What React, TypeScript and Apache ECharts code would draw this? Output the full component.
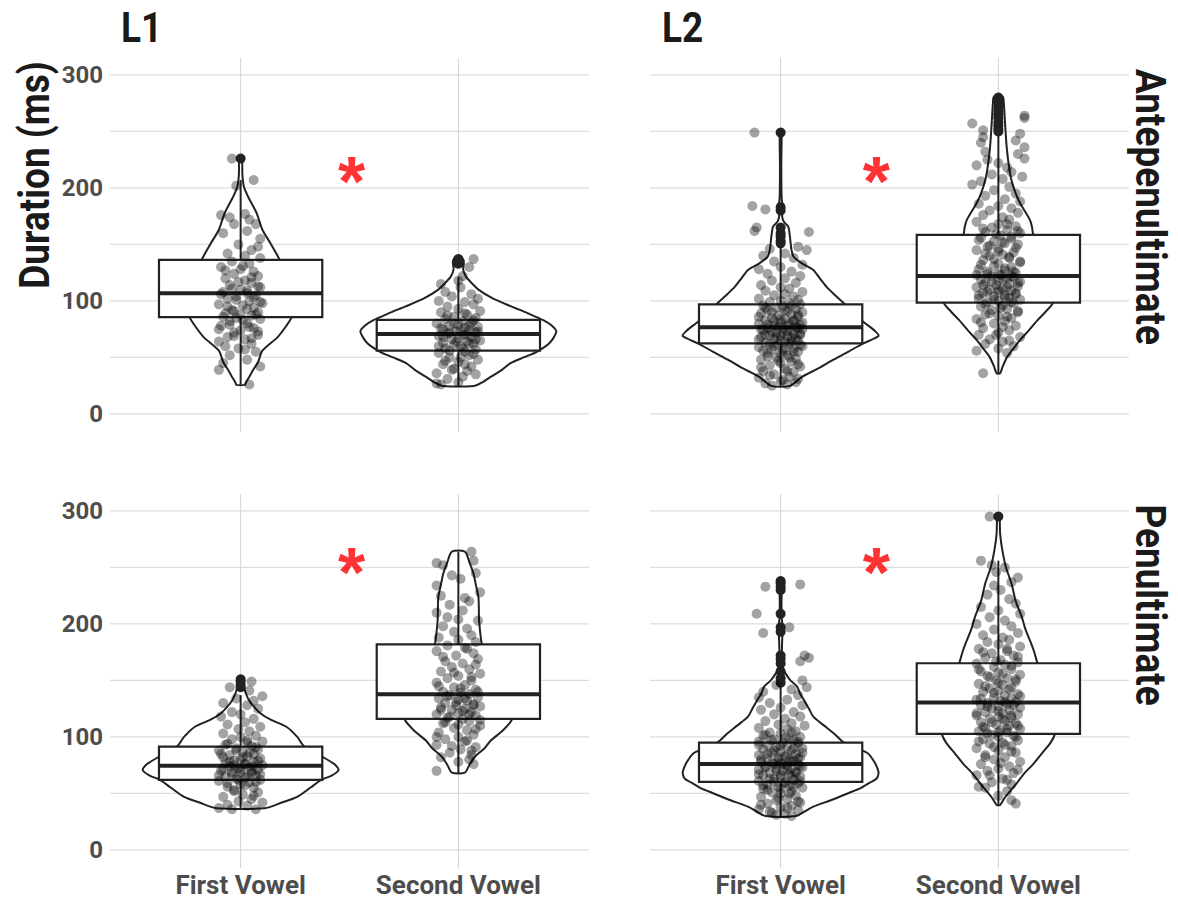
import React, { useEffect, useRef } from "react";
import * as echarts from "echarts";

// ---------- DATA ----------
const categories = ["First Vowel", "Second Vowel"];
const languages = ["L1", "L2"];
const positions = ["Antepenultimate", "Penultimate"];
const yTickLabels = [0, 100, 200, 300];
const yGridValues = [0, 50, 100, 150, 200, 250, 300];
const yAxisTitle = "Duration (ms)";

// box stats: [lower whisker, Q1, median, Q3, upper whisker]
const boxL1AnteFirst = [26, 85.6, 106.8, 136.3, 207];
const boxL1AnteSecond = [25, 56, 70.8, 83.2, 121];
const boxL2AnteFirst = [25, 62.5, 76.7, 97, 148];
const boxL2AnteSecond = [36, 98.5, 122, 158.4, 248];
const boxL1PenFirst = [37, 62, 74.6, 91.4, 137];
const boxL1PenSecond = [68, 116, 137.8, 182, 264];
const boxL2PenFirst = [30, 60.2, 76.1, 95, 146];
const boxL2PenSecond = [40, 102.7, 130.4, 165.2, 256];

// outliers
const outL1AnteFirst = [226];
const outL1AnteSecond = [133, 135, 137];
const outL2AnteFirst = [151, 153, 157, 160, 165, 180, 183, 249];
const outL2AnteSecond = [250, 252, 255, 258, 262, 265, 268, 272, 276, 278, 280];
const outL1PenFirst = [144, 146, 149, 151];
const outL1PenSecond: number[] = [];
const outL2PenFirst = [148, 152, 158, 165, 169, 172, 193, 197, 209, 230, 233, 236, 238];
const outL2PenSecond = [295];

// violin profiles: [duration, half width (category units)]
const vioL1AnteFirst = [[25.7,0.02],[27,0.022],[33,0.04],[39,0.058],[46,0.08],[56,0.1],[68,0.17],[78,0.21],[86,0.235],[95,0.24],[105,0.235],[120,0.21],[136,0.18],[150,0.14],[163,0.1],[178,0.073],[192,0.035],[201,0.015],[212,0.008],[226.5,0.006]];
const vioL1AnteSecond = [[24.8,0.073],[28,0.11],[33,0.15],[39,0.2],[45,0.24],[50,0.3],[55,0.36],[63,0.42],[72.8,0.45],[78,0.43],[83,0.39],[89,0.32],[95,0.245],[102,0.16],[110,0.092],[116,0.06],[121.5,0.035],[128,0.022],[133,0.025],[136,0.024],[139,0.012]];
const vioL2AnteFirst = [[24.8,0.043],[33,0.1],[40,0.17],[47.8,0.24],[55,0.31],[62.5,0.38],[69,0.45],[74,0.43],[80,0.39],[88,0.34],[98,0.29],[105,0.25],[112.6,0.21],[120,0.18],[127.4,0.15],[133,0.1],[139,0.06],[145,0.05],[151,0.046],[158,0.042],[165.8,0.035],[170,0.015],[174.6,0.007],[180,0.01],[184,0.012],[188,0.006],[195,0.004],[220,0.003],[249.8,0.004]];
const vioL2AnteSecond = [[36,0.008],[42,0.02],[50.7,0.041],[58,0.07],[65.5,0.1],[74,0.14],[83,0.18],[90,0.215],[98,0.25],[110,0.27],[125,0.26],[140,0.22],[150,0.19],[159,0.16],[165,0.155],[171.7,0.145],[180,0.12],[186.5,0.1],[195,0.08],[207,0.06],[220,0.048],[236.6,0.038],[250,0.033],[266,0.028],[275,0.025],[280.8,0.02]];
const vioL1PenFirst = [[36.9,0.11],[42,0.19],[47,0.26],[55,0.32],[62,0.37],[66,0.42],[70.8,0.45],[76,0.43],[83,0.37],[92,0.29],[100,0.26],[109,0.21],[115,0.14],[121,0.09],[127,0.06],[132.7,0.038],[138,0.025],[144.5,0.015],[148,0.015],[152,0.012]];
const vioL1PenSecond = [[68.4,0.03],[75,0.05],[82.6,0.076],[90,0.12],[97,0.15],[105,0.2],[115,0.245],[125,0.25],[135,0.23],[150,0.19],[165,0.15],[175,0.12],[183,0.107],[193,0.1],[203.5,0.095],[214,0.094],[224,0.092],[235,0.08],[244.8,0.069],[255,0.05],[264,0.03]];
const vioL2PenFirst = [[30,0.07],[34,0.11],[38.3,0.15],[44,0.23],[50.2,0.31],[55,0.37],[59.6,0.41],[63,0.44],[67.9,0.45],[72,0.445],[78,0.43],[85.5,0.4],[90,0.35],[95,0.29],[103,0.245],[110,0.2],[118,0.15],[125,0.13],[132.7,0.107],[138,0.09],[144.5,0.076],[150,0.045],[156,0.023],[160,0.012],[165,0.008],[170,0.012],[175,0.006],[190,0.008],[197,0.01],[205,0.005],[220,0.004],[238,0.005]];
const vioL2PenSecond = [[39.8,0.008],[45,0.025],[50.2,0.046],[58,0.08],[67.9,0.12],[76,0.16],[85.5,0.2],[95,0.24],[102.7,0.26],[115,0.27],[130,0.26],[145,0.23],[155,0.2],[165,0.18],[175,0.165],[183,0.15],[195,0.125],[206.5,0.107],[220,0.08],[236,0.06],[250,0.035],[265.5,0.018],[280,0.008],[295,0.005]];

// jittered observations: [horizontal jitter, duration]
const ptsL1AnteFirst = [[-0.04,226],[0.06,207],[-0.02,202],[-0.09,176],[-0.05,174],[0.02,177],[0.04,172],[-0.03,168],[0.07,168],[-0.08,160],[0.03,162],[0.09,155],[-0.01,150],[0.08,148],[0.05,145],[-0.06,142],[0.02,140],[0.09,138],[-0.04,135],[0.04,133],[-0.09,130],[0,128],[0.06,126],[-0.03,124],[0.08,122],[-0.07,120],[0.02,118],[0.05,116],[-0.05,114],[0.09,112],[0,110],[-0.08,108],[0.03,107],[0.07,105],[-0.02,104],[-0.06,102],[0.04,100],[0.1,98],[-0.1,97],[0.01,96],[0.06,94],[-0.04,92],[0.08,90],[-0.07,89],[0,88],[0.05,87],[-0.02,85],[0.09,84],[-0.05,82],[0.03,80],[-0.09,78],[0.06,76],[0,74],[-0.03,72],[0.08,70],[-0.06,68],[0.02,66],[-0.1,64],[0.05,62],[-0.01,58],[0.07,55],[-0.05,52],[0.03,48],[-0.08,45],[0.09,42],[-0.1,39],[0.04,26],
  [0.01,131],[-0.07,127],[0.05,121],[-0.01,117],[0.08,113],[-0.04,111],[0.03,109],[-0.09,106],[0.06,103],[-0.02,101],[0.09,99],[-0.06,95],[0.03,93],[-0.03,91],[0.07,88],[-0.08,86],[0.01,83],[-0.05,79],[0.04,77],[-0.1,75],[0.08,73],[-0.03,69],[0.05,67],[-0.07,60],[0.02,57]];
const ptsL1AnteSecond = [[0.07,137],[0.05,130],[0.02,122],[0,118],[-0.08,115],[0.01,112],[-0.06,108],[0.06,106],[-0.03,104],[0.09,102],[-0.09,100],[0.03,99],[0.07,97],[-0.05,95],[0,93],[0.1,91],[-0.08,90],[0.04,88],[-0.02,86],[0.08,85],[-0.06,84],[0.02,82],[0.06,81],[-0.1,80],[0,79],[-0.04,78],[0.09,77],[0.03,76],[-0.07,75],[0.05,74],[-0.01,73],[0.08,72],[-0.05,71],[0.02,70],[-0.09,69],[0.06,68],[0,67],[-0.03,66],[0.1,65],[0.04,64],[-0.07,63],[0.07,62],[-0.02,61],[0.01,60],[-0.06,58],[0.08,57],[0.03,55],[-0.09,54],[0.05,52],[-0.04,50],[0.09,48],[0,46],[-0.07,44],[0.06,42],[-0.02,40],[0.04,38],[-0.1,36],[0.08,35],[0.02,33],[-0.05,31],[-0.1,27],[-0.08,26],[0,28],
  [0.03,89],[-0.05,87],[0.07,83],[-0.02,80],[0.05,78],[-0.08,76],[0.01,74],[0.09,73],[-0.04,72],[0.04,70],[-0.07,68],[0.08,66],[-0.01,64],[0.05,62],[-0.09,60],[0.02,58],[-0.04,56],[0.07,53],[0.01,50],[-0.06,47],[0.03,44],[-0.03,39]];
const ptsL2AnteFirst = [[-0.12,249],[-0.13,184],[-0.07,181],[-0.11,165],[-0.12,162],[0.13,161],[0.08,148],[-0.05,146],[0.12,145],[0.02,142],[-0.08,140],[0.06,138],[-0.03,135],[0.1,132],[0,130],[-0.1,128],[0.05,126],[-0.06,124],[0.09,122],[0.02,120],[-0.04,118],[0.07,116],[-0.09,114],[0,112],[0.04,111],[-0.07,109],[0.1,108],[0.02,106],[-0.03,105],[0.06,104],[-0.1,102],[0.08,101],[0,100],[-0.05,99],[0.04,98],[0.09,97],[-0.08,96],[0.01,95],[-0.02,94],[0.07,93],[-0.06,92],[0.03,91],[0.1,90],[-0.09,89],[0.05,88],[-0.01,87],[0.08,86],[-0.04,85],[0.02,84],[-0.07,83],[0.06,82],[0,81],[-0.1,80],[0.04,80],[0.09,79],[-0.03,78],[0.07,77],[-0.06,76],[0.01,76],[0.1,75],[-0.08,74],[0.03,73],[-0.02,72],[0.06,71],[-0.05,70],[0.09,70],[0,69],[-0.09,68],[0.05,67],[-0.03,66],[0.08,65],[0.02,64],[-0.07,63],[0.04,62],[-0.01,61],[0.1,60],[-0.1,59],[0.06,58],[-0.04,57],[0.01,56],[0.08,55],[-0.06,54],[0.03,52],[-0.02,50],[0.07,49],[-0.09,48],[0.05,46],[0,45],[-0.05,43],[0.09,42],[0.02,40],[-0.08,38],[0.06,37],[-0.03,35],[0.04,33],[-0.1,32],[0.08,31],[0,29],[-0.07,27],[0.03,26],[-0.04,25],
  [0.05,96],[-0.07,94],[0.02,92],[-0.04,90],[0.08,88],[-0.1,86],[0,84],[0.06,83],[-0.03,82],[0.1,81],[-0.06,79],[0.03,78],[-0.01,77],[0.08,76],[-0.09,75],[0.05,74],[-0.04,73],[0.01,72],[0.09,71],[-0.07,70],[0.03,69],[-0.02,68],[0.07,67],[-0.1,66],[0,65],[0.05,64],[-0.05,62],[0.09,61],[-0.03,60],[0.02,58],[-0.08,56],[0.06,55],[0,53],[-0.06,51],[0.04,50],[-0.01,47],[0.08,44],[-0.09,41],[0.03,38],[-0.05,34],[0.01,30],[0.07,28]];
const ptsL2AnteSecond = [[0.12,264],[0.12,262],[-0.12,257],[0.1,248],[-0.07,251],[-0.07,245],[0.08,242],[-0.08,240],[0.12,236],[-0.06,232],[0.09,230],[0.12,226],[-0.05,225],[0,222],[-0.1,220],[0.04,218],[0.06,214],[-0.03,212],[0.11,210],[0.02,208],[-0.08,206],[-0.12,203],[0.05,201],[-0.02,198],[0.08,195],[-0.06,193],[0.03,190],[0.1,188],[-0.09,186],[0,184],[0.06,182],[-0.04,180],[0.09,178],[-0.07,176],[0.02,174],[0.05,172],[-0.1,170],[0,168],[0.08,166],[-0.03,165],[0.04,163],[-0.06,161],[0.1,160],[0.01,158],[-0.08,156],[0.06,155],[-0.02,153],[0.03,151],[0.09,150],[-0.05,148],[0,146],[-0.1,145],[0.07,143],[0.02,141],[-0.04,140],[0.05,138],[-0.07,136],[0.1,135],[0,133],[-0.02,131],[0.06,130],[-0.09,128],[0.03,127],[0.08,125],[-0.05,124],[0.01,123],[-0.03,122],[0.07,121],[0.04,120],[-0.08,119],[0,118],[0.1,117],[-0.06,116],[0.05,115],[-0.01,114],[0.09,113],[-0.1,112],[0.02,111],[-0.04,110],[0.06,109],[0,108],[-0.07,107],[0.08,106],[0.03,105],[-0.02,104],[0.05,103],[-0.09,102],[0.1,101],[0,100],[-0.05,99],[0.07,98],[0.02,96],[-0.08,95],[0.04,93],[-0.03,92],[0.09,90],[-0.06,88],[0,87],[0.06,85],[-0.1,84],[0.03,82],[-0.02,80],[0.08,78],[-0.07,76],[0.05,74],[0,72],[-0.09,70],[0.1,68],[-0.04,66],[0.02,64],[-0.06,62],[0.07,60],[0,58],[-0.1,56],[0.04,54],[-0.07,36],
  [0.04,168],[-0.07,164],[0.09,162],[-0.01,159],[0.06,157],[-0.09,154],[0.02,152],[-0.04,149],[0.08,147],[0,144],[-0.06,142],[0.05,139],[-0.02,137],[0.1,134],[-0.08,132],[0.03,129],[0.07,126],[-0.05,126],[0,124],[-0.1,123],[0.06,122],[0.02,119],[-0.03,117],[0.09,116],[-0.07,114],[0.04,112],[0,110],[-0.05,108],[0.08,107],[-0.09,105],[0.03,103],[-0.02,101],[0.06,99],[-0.06,97],[0.01,94],[0.09,91],[-0.04,89],[0.04,86],[-0.08,81],[0.02,77],[-0.01,70],[0.05,65]];
const ptsL1PenFirst = [[0.05,149],[-0.05,144],[0.04,141],[0.1,136],[-0.02,134],[0.06,132],[-0.08,130],[0.03,128],[0.08,125],[-0.04,122],[0,120],[-0.09,118],[0.06,116],[0.02,113],[-0.06,111],[0.09,109],[-0.01,107],[0.04,105],[-0.08,103],[0.07,101],[0,100],[-0.04,98],[0.1,96],[0.03,95],[-0.07,93],[0.05,92],[-0.02,90],[0.08,89],[-0.1,88],[0.01,87],[0.06,85],[-0.05,84],[0.03,83],[-0.08,82],[0.09,81],[0,80],[-0.03,79],[0.06,78],[-0.07,77],[0.02,76],[0.1,75],[-0.05,74],[0.04,73],[-0.01,72],[0.08,71],[-0.09,70],[0,69],[0.05,68],[-0.04,67],[0.07,66],[-0.07,65],[0.02,64],[-0.02,63],[0.09,62],[-0.1,61],[0.04,60],[0,58],[-0.06,56],[0.06,55],[-0.03,53],[0.08,51],[0.01,49],[-0.08,47],[0.05,45],[-0.01,43],[0.1,42],[-0.06,40],[0.03,39],[-0.1,37],[-0.04,36],[0.07,36],
  [0.03,97],[-0.06,94],[0.07,91],[-0.02,88],[0.04,86],[-0.09,85],[0.01,82],[0.08,79],[-0.05,78],[0.02,76],[-0.03,75],[0.06,74],[-0.08,72],[0,71],[0.05,70],[-0.04,69],[0.09,67],[-0.1,66],[0.03,65],[-0.01,62],[0.07,60],[-0.06,59],[0.02,57],[-0.03,52],[0.06,48]];
const ptsL1PenSecond = [[0.06,264],[0.07,256],[-0.1,254],[-0.07,252],[0.08,245],[-0.03,243],[0.01,240],[-0.1,234],[0.1,228],[-0.08,225],[0.03,223],[0.05,220],[-0.04,217],[-0.1,210],[0.02,212],[-0.05,206],[0,204],[0.09,203],[-0.07,198],[0.04,196],[-0.02,193],[0.06,190],[-0.09,188],[0,186],[0.08,184],[-0.05,181],[0.03,179],[-0.1,176],[0.07,174],[-0.01,172],[0.09,169],[-0.06,167],[0.02,165],[-0.03,162],[0.05,160],[-0.08,158],[0.1,156],[0,154],[-0.05,152],[0.06,150],[-0.1,148],[0.03,146],[-0.02,144],[0.08,142],[-0.07,140],[0.01,139],[0.05,138],[-0.04,137],[0.09,135],[-0.09,134],[0,133],[0.04,132],[-0.06,130],[0.07,129],[-0.01,128],[0.1,127],[-0.08,126],[0.03,125],[-0.03,124],[0.06,122],[0,121],[-0.1,120],[0.08,119],[-0.05,117],[0.02,116],[0.05,114],[-0.07,112],[0.1,110],[-0.02,108],[0.04,106],[-0.09,104],[0.07,102],[0,100],[-0.06,98],[0.03,96],[-0.1,93],[0.08,91],[0.01,89],[-0.04,86],[0.06,84],[-0.08,82],[0.05,80],[0,78],[0.07,76],[-0.1,70],
  [0.04,178],[-0.07,171],[0.08,164],[-0.02,157],[0.06,153],[-0.09,145],[0.01,143],[0.09,140],[-0.05,136],[0.03,134],[-0.01,131],[0.07,128],[-0.08,124],[0.02,123],[0.05,120],[-0.04,118],[0.1,115],[-0.06,113],[0,111],[0.08,107],[-0.1,100],[0.04,97],[-0.03,92],[0.06,88]];
const ptsL2PenFirst = [[-0.07,233],[0.09,235],[-0.11,209],[0.04,197],[-0.08,192],[0.11,172],[0.13,170],[0.09,167],[0.1,150],[-0.02,146],[0.12,144],[0.05,142],[-0.08,140],[0.08,137],[-0.1,135],[0.03,133],[-0.05,130],[0.1,128],[0,126],[-0.09,124],[0.06,122],[-0.03,120],[0.09,118],[0.02,116],[-0.07,114],[0.05,112],[-0.01,111],[0.11,110],[-0.1,108],[0.03,107],[0.07,105],[-0.05,104],[0,103],[-0.08,101],[0.09,100],[0.04,99],[-0.03,98],[0.06,97],[-0.1,96],[0.01,95],[0.08,94],[-0.06,93],[0.03,92],[-0.02,91],[0.1,90],[-0.08,89],[0.05,88],[0,87],[-0.04,86],[0.07,85],[-0.1,84],[0.02,83],[0.09,82],[-0.06,81],[0.04,80],[-0.01,80],[0.06,79],[-0.09,78],[0,77],[0.08,76],[-0.03,76],[0.03,75],[-0.07,74],[0.1,73],[-0.02,72],[0.05,72],[-0.1,71],[0.01,70],[0.07,69],[-0.05,68],[0.04,67],[-0.08,66],[0.09,65],[0,64],[-0.03,63],[0.06,62],[-0.1,61],[0.02,60],[0.08,59],[-0.06,58],[0.04,57],[-0.01,56],[0.1,55],[-0.08,54],[0.05,52],[-0.04,51],[0,50],[0.07,48],[-0.09,47],[0.03,45],[-0.02,44],[0.09,42],[-0.06,41],[0.05,39],[0,38],[-0.1,36],[0.08,35],[-0.04,33],[0.02,32],[0.05,30],[-0.02,31],
  [0.05,104],[-0.07,102],[0.02,99],[-0.04,97],[0.08,96],[-0.1,93],[0,92],[0.06,90],[-0.03,88],[0.1,86],[-0.06,85],[0.03,84],[-0.01,82],[0.08,81],[-0.09,80],[0.05,78],[-0.04,77],[0.01,76],[0.09,74],[-0.07,73],[0.03,71],[-0.02,70],[0.07,68],[-0.1,67],[0,66],[0.05,65],[-0.05,63],[0.09,61],[-0.03,60],[0.02,59],[-0.08,57],[0.06,56],[0,54],[-0.06,53],[0.04,50],[-0.01,46],[0.08,43],[-0.09,40],[0.03,37],[-0.05,34]];
const ptsL2PenSecond = [[-0.04,295],[-0.08,256],[-0.03,252],[0.03,250],[-0.01,246],[0.09,241],[0.06,237],[-0.02,234],[0.01,230],[-0.05,226],[0.05,222],[0.08,218],[-0.08,215],[0,212],[0.1,209],[-0.04,206],[0.03,203],[-0.1,200],[0.06,198],[-0.02,195],[0.09,192],[-0.07,190],[0.02,188],[0.05,186],[-0.05,184],[0,182],[0.1,180],[-0.09,178],[0.04,176],[-0.03,174],[0.07,172],[-0.06,170],[0.01,168],[0.09,166],[-0.1,165],[0.03,164],[-0.02,162],[0.06,160],[-0.08,158],[0,157],[0.1,155],[-0.05,154],[0.04,152],[-0.01,150],[0.08,149],[-0.09,147],[0.02,146],[0.06,144],[-0.04,143],[0,141],[-0.07,140],[0.09,138],[0.03,137],[-0.02,135],[0.06,134],[-0.1,133],[0.01,132],[0.08,131],[-0.05,130],[0.04,129],[-0.08,128],[0,127],[0.1,126],[-0.03,125],[0.05,124],[-0.06,122],[0.02,121],[0.09,120],[-0.1,119],[0,118],[0.06,117],[-0.04,116],[0.03,114],[-0.08,113],[0.08,112],[-0.01,111],[0.05,110],[-0.06,108],[0.1,107],[0.01,106],[-0.09,105],[0.04,104],[-0.03,102],[0.07,101],[0,100],[-0.07,98],[0.09,97],[0.02,95],[-0.04,94],[0.06,92],[-0.1,90],[0,88],[0.08,86],[-0.06,84],[0.03,82],[-0.02,80],[0.1,78],[-0.08,76],[0.05,74],[0,72],[-0.05,70],[0.07,68],[-0.1,66],[0.02,63],[-0.03,60],[0.06,58],[-0.09,56],[-0.06,55],[0.04,52],[0,48],[0.06,44],[0.08,41],
  [0.04,178],[-0.07,175],[0.09,171],[-0.01,167],[0.06,163],[-0.09,160],[0.02,156],[-0.04,153],[0.08,151],[0,148],[-0.06,145],[0.05,142],[-0.02,139],[0.1,136],[-0.08,134],[0.03,131],[0.07,128],[-0.05,127],[0,123],[-0.1,121],[0.06,119],[0.02,116],[-0.03,113],[0.09,110],[-0.07,109],[0.04,107],[0,104],[-0.05,103],[0.08,100],[-0.09,96],[0.03,93],[-0.02,91],[0.06,87],[-0.06,82],[0.01,77],[0.09,71],[-0.04,66],[0.04,62]];

// significance marks: [x position, duration] per panel
const starL1Ante = [1.51, 205];
const starL2Ante = [1.44, 205];
const starL1Pen = [1.51, 245];
const starL2Pen = [1.44, 245];

// ---------- BUILD ----------
const FONT = "Roboto, 'Liberation Sans', sans-serif";
const BOX_HW = 0.375;
const LINE = "#222222";

type Group = { box: number[]; violin: number[][]; points: number[][]; outliers: number[] };
type Panel = { lang: number; pos: number; groups: Group[]; star: number[] };

const panels: Panel[] = [
  { lang: 0, pos: 0, star: starL1Ante, groups: [
    { box: boxL1AnteFirst, violin: vioL1AnteFirst, points: ptsL1AnteFirst, outliers: outL1AnteFirst },
    { box: boxL1AnteSecond, violin: vioL1AnteSecond, points: ptsL1AnteSecond, outliers: outL1AnteSecond } ] },
  { lang: 1, pos: 0, star: starL2Ante, groups: [
    { box: boxL2AnteFirst, violin: vioL2AnteFirst, points: ptsL2AnteFirst, outliers: outL2AnteFirst },
    { box: boxL2AnteSecond, violin: vioL2AnteSecond, points: ptsL2AnteSecond, outliers: outL2AnteSecond } ] },
  { lang: 0, pos: 1, star: starL1Pen, groups: [
    { box: boxL1PenFirst, violin: vioL1PenFirst, points: ptsL1PenFirst, outliers: outL1PenFirst },
    { box: boxL1PenSecond, violin: vioL1PenSecond, points: ptsL1PenSecond, outliers: outL1PenSecond } ] },
  { lang: 1, pos: 1, star: starL2Pen, groups: [
    { box: boxL2PenFirst, violin: vioL2PenFirst, points: ptsL2PenFirst, outliers: outL2PenFirst },
    { box: boxL2PenSecond, violin: vioL2PenSecond, points: ptsL2PenSecond, outliers: outL2PenSecond } ] },
];

function buildOption() {
  const grids: any[] = [];
  const xAxes: any[] = [];
  const yAxes: any[] = [];
  const series: any[] = [];
  const lefts = [110, 650];
  const tops = [58, 494];

  panels.forEach((p, i) => {
    grids.push({ left: lefts[p.lang], top: tops[p.pos], width: 479, height: 374, containLabel: false });
    xAxes.push({
      type: "value", gridIndex: i, min: 0.4, max: 2.6,
      axisLine: { show: false }, axisTick: { show: false }, splitLine: { show: false },
      axisLabel: {
        show: p.pos === 1, customValues: [1, 2], margin: 4,
        formatter: (v: number) => categories[Math.round(v) - 1] ?? "",
        fontFamily: FONT, fontWeight: "bold", fontSize: 26, color: "#4d4d4d",
      },
    });
    yAxes.push({
      type: "value", gridIndex: i, min: -16, max: 315,
      axisLine: { show: false }, axisTick: { show: false }, splitLine: { show: false },
      axisLabel: {
        show: p.lang === 0, customValues: yTickLabels, margin: 7,
        fontFamily: FONT, fontWeight: "bold", fontSize: 24, color: "#4d4d4d",
      },
    });

    // grid lines
    const gridData = [
      ...yGridValues.map((v) => [0, v]),
      ...categories.map((_, k) => [1, k + 1]),
    ];
    series.push({
      type: "custom", xAxisIndex: i, yAxisIndex: i, z: 0, silent: true,
      data: gridData,
      renderItem: (params: any, api: any) => {
        const cs = params.coordSys;
        const kind = api.value(0);
        const v = api.value(1);
        if (kind === 0) {
          const y = api.coord([1, v])[1];
          return { type: "line", shape: { x1: cs.x, y1: y, x2: cs.x + cs.width, y2: y }, style: { stroke: "#dddddd", lineWidth: 1.3 } };
        }
        const x = api.coord([v, 0])[0];
        return { type: "line", shape: { x1: x, y1: cs.y, x2: x, y2: cs.y + cs.height }, style: { stroke: "#d3d3d3", lineWidth: 1 } };
      },
    });

    // violins and boxes
    series.push({
      type: "custom", xAxisIndex: i, yAxisIndex: i, z: 2, silent: true,
      data: p.groups.map((_, gi) => [gi + 1, p.groups[gi].box[2]]),
      renderItem: (params: any, api: any) => {
        const g = p.groups[params.dataIndex];
        const c = params.dataIndex + 1;
        const right = g.violin.map(([v, hw]) => api.coord([c + hw, v]));
        const left = g.violin.slice().reverse().map(([v, hw]) => api.coord([c - hw, v]));
        const [lo, q1, med, q3, hi] = g.box;
        const tl = api.coord([c - BOX_HW, q3]);
        const br = api.coord([c + BOX_HW, q1]);
        const mL = api.coord([c - BOX_HW, med]);
        const mR = api.coord([c + BOX_HW, med]);
        const wHi = api.coord([c, hi]);
        const wQ3 = api.coord([c, q3]);
        const wLo = api.coord([c, lo]);
        const wQ1 = api.coord([c, q1]);
        return {
          type: "group",
          children: [
            { type: "polygon", shape: { points: [...right, ...left], smooth: 0.25 }, style: { fill: "#ffffff", stroke: LINE, lineWidth: 2 } },
            { type: "line", shape: { x1: wHi[0], y1: wHi[1], x2: wQ3[0], y2: wQ3[1] }, style: { stroke: LINE, lineWidth: 2 } },
            { type: "line", shape: { x1: wLo[0], y1: wLo[1], x2: wQ1[0], y2: wQ1[1] }, style: { stroke: LINE, lineWidth: 2 } },
            { type: "rect", shape: { x: tl[0], y: tl[1], width: br[0] - tl[0], height: br[1] - tl[1] }, style: { fill: "#ffffff", stroke: LINE, lineWidth: 2.2 } },
            { type: "line", shape: { x1: mL[0], y1: mL[1], x2: mR[0], y2: mR[1] }, style: { stroke: LINE, lineWidth: 4 } },
          ],
        };
      },
    });

    // outliers
    series.push({
      type: "scatter", xAxisIndex: i, yAxisIndex: i, z: 3, silent: true,
      symbolSize: 10,
      itemStyle: { color: "#222222", opacity: 1 },
      data: p.groups.flatMap((g, gi) => g.outliers.map((v) => [gi + 1, v])),
    });

    // jittered points
    series.push({
      type: "scatter", xAxisIndex: i, yAxisIndex: i, z: 4, silent: true,
      symbolSize: 10,
      itemStyle: { color: "rgba(0,0,0,0.45)" },
      data: p.groups.flatMap((g, gi) => g.points.map(([dx, v]) => [gi + 1 + dx, v])),
    });

    // significance star
    series.push({
      type: "scatter", xAxisIndex: i, yAxisIndex: i, z: 5, silent: true,
      symbolSize: 0,
      data: [p.star],
      label: {
        show: true, position: "inside", formatter: "*",
        fontFamily: "'Liberation Sans', Arial, sans-serif", fontWeight: "bold", fontSize: 70, color: "#ff0000",
      },
    });
  });

  const TITLE_FONT = "bold 42px Roboto, 'Liberation Sans', sans-serif";
  const graphic: any[] = [
    ...languages.map((t, k) => ({
      type: "text", x: [121, 662][k], y: 28, scaleX: 0.88,
      style: { text: t, font: TITLE_FONT, fill: "#1a1a1a", verticalAlign: "middle", align: "left" },
    })),
    {
      type: "text", x: 35, y: 175, rotation: Math.PI / 2, scaleX: 0.88,
      style: { text: yAxisTitle, font: TITLE_FONT, fill: "#1a1a1a", verticalAlign: "middle", align: "center" },
    },
    ...positions.map((t, k) => ({
      type: "text", x: 1150, y: [207, 605][k], rotation: -Math.PI / 2, scaleX: 0.88,
      style: { text: t, font: TITLE_FONT, fill: "#1a1a1a", verticalAlign: "middle", align: "center" },
    })),
  ];

  return {
    animation: false,
    backgroundColor: "#ffffff",
    grid: grids,
    xAxis: xAxes,
    yAxis: yAxes,
    series,
    graphic,
  };
}

export default function App() {
  const ref = useRef<HTMLDivElement>(null);
  useEffect(() => {
    if (!ref.current) return;
    const chart = echarts.init(ref.current, undefined, { renderer: "svg" });
    chart.setOption(buildOption());
    return () => chart.dispose();
  }, []);
  return <div ref={ref} style={{ position: "absolute", left: 0, top: 0, width: 1178, height: 900 }} />;
}
